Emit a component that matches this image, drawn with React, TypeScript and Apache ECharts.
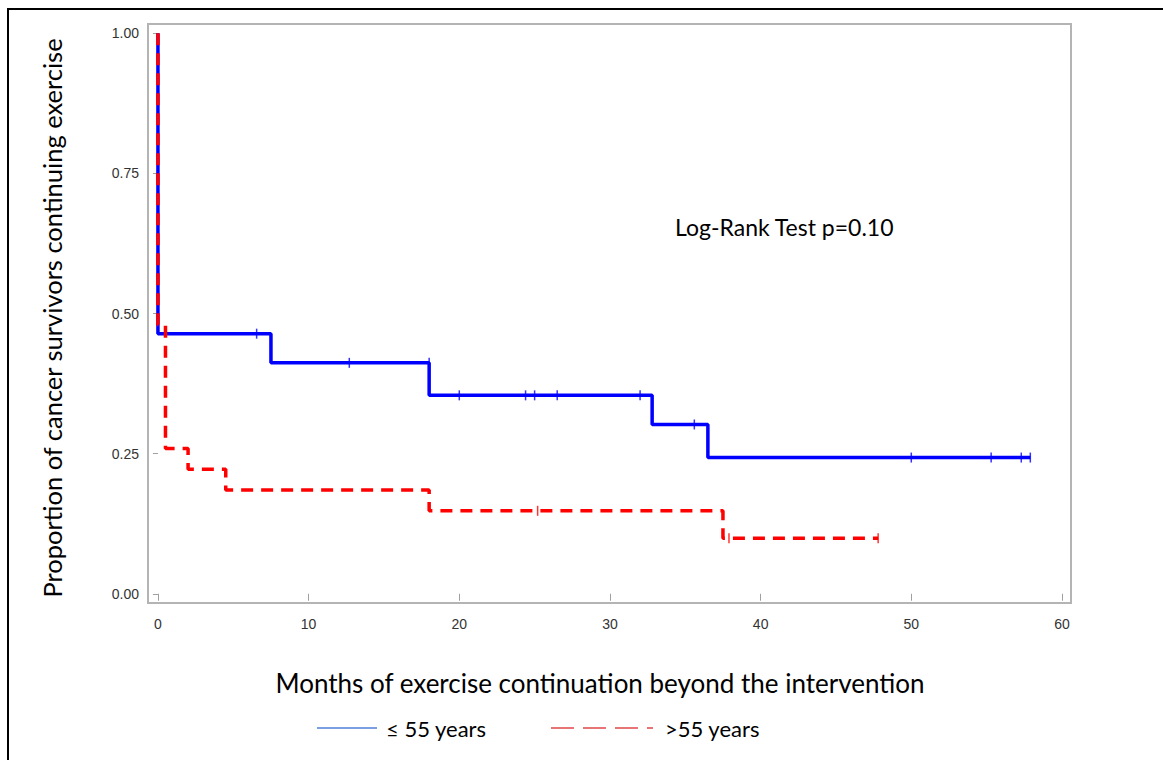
import React, { useEffect, useRef } from "react";
import * as echarts from "echarts";

// Kaplan-Meier curves (event times and survival after each event)
const youngTimes = [0, 0, 7.5, 18.0, 32.8, 36.5, 57.9];
const youngSurv = [1.0, 0.464, 0.412, 0.354, 0.302, 0.243, 0.243];
const oldTimes = [0, 0, 0.5, 2.0, 4.5, 18.0, 37.5, 47.8];
const oldSurv = [1.0, 0.48, 0.259, 0.222, 0.185, 0.148, 0.099, 0.099];

// Censored observations
const youngCensorTimes = [6.55, 12.7, 18.0, 20.0, 24.4, 25.0, 26.5, 32.0, 35.6, 50.0, 55.3, 57.3, 57.9];
const youngCensorSurv = [0.464, 0.412, 0.412, 0.354, 0.354, 0.354, 0.354, 0.354, 0.302, 0.243, 0.243, 0.243, 0.243];
const oldCensorTimes = [25.2, 37.9, 47.8];
const oldCensorSurv = [0.148, 0.099, 0.099];

const xTicks = [0, 10, 20, 30, 40, 50, 60];
const yTicks = [0, 0.25, 0.5, 0.75, 1.0];

const legendNames = ["\u2264 55 years", ">55 years"];
const yTitle = "Proportion of cancer survivors continuing exercise";
const xTitle = "Months of exercise continuation beyond the intervention";
const annotation = "Log-Rank Test p=0.10";

const zip = (a: number[], b: number[]) => a.map((v, i) => [v, b[i]]);

export default function App() {
  const ref = useRef<HTMLDivElement>(null);
  useEffect(() => {
    document.body.style.margin = "0";
    document.body.style.overflow = "hidden";
    if (!ref.current) return;
    const chart = echarts.init(ref.current, undefined, { renderer: "svg" });
    const titleFont = "Lato, 'Open Sans', sans-serif";
    const tickFont = "'Liberation Sans', Arial, sans-serif";
    chart.setOption({
      animation: false,
      backgroundColor: "#ffffff",
      grid: {
        left: 148,
        top: 24,
        right: 92,
        bottom: 157,
        show: true,
        borderColor: "#b4b4b4",
        borderWidth: 2,
        containLabel: false,
      },
      xAxis: {
        type: "value",
        min: -0.66,
        max: 60.6,
        splitLine: { show: false },
        axisLine: { show: false },
        axisTick: {
          show: true,
          inside: false,
          length: 7,
          customValues: xTicks,
          lineStyle: { color: "#a0a0a0", width: 1 },
        },
        axisLabel: {
          customValues: xTicks,
          margin: 14,
          color: "#333",
          fontSize: 14,
          fontFamily: tickFont,
        },
      },
      yAxis: {
        type: "value",
        min: -0.0165,
        max: 1.0165,
        splitLine: { show: false },
        axisLine: { show: false },
        axisTick: {
          show: true,
          inside: false,
          length: 5,
          customValues: yTicks,
          lineStyle: { color: "#a0a0a0", width: 1 },
        },
        axisLabel: {
          customValues: yTicks,
          margin: 9,
          color: "#333",
          fontSize: 14,
          fontFamily: tickFont,
          formatter: (v: number) => v.toFixed(2),
        },
      },
      series: [
        {
          name: legendNames[0],
          type: "line",
          step: "end",
          data: zip(youngTimes, youngSurv),
          showSymbol: false,
          symbol: "none",
          lineStyle: { color: "#0000ff", width: 3.5 },
          z: 2,
        },
        {
          name: legendNames[1],
          type: "line",
          step: "end",
          data: zip(oldTimes, oldSurv),
          showSymbol: false,
          symbol: "none",
          lineStyle: { color: "#ff0000", width: 3.5, type: [12, 8] },
          z: 3,
        },
        {
          type: "scatter",
          data: zip(youngCensorTimes, youngCensorSurv),
          symbol: "rect",
          symbolSize: [1.5, 10],
          itemStyle: { color: "#0000ff" },
          z: 4,
        },
        {
          type: "scatter",
          data: zip(oldCensorTimes, oldCensorSurv),
          symbol: "rect",
          symbolSize: [1.5, 10],
          itemStyle: { color: "#ff0000" },
          z: 4,
        },
      ],
      graphic: [
        {
          type: "rect",
          shape: { x: 8, y: 9, width: 1300, height: 900 },
          style: { fill: "none", stroke: "#000", lineWidth: 2 },
          silent: true,
        },
        {
          type: "text",
          x: 52,
          y: 318,
          rotation: Math.PI / 2,
          style: {
            text: yTitle,
            font: `25.5px ${titleFont}`,
            fill: "#000",
            textAlign: "center",
            textVerticalAlign: "middle",
          },
        },
        {
          type: "text",
          x: 600,
          y: 683,
          style: {
            text: xTitle,
            font: `26px ${titleFont}`,
            fill: "#000",
            textAlign: "center",
            textVerticalAlign: "middle",
          },
        },
        {
          type: "text",
          x: 675,
          y: 227,
          style: {
            text: annotation,
            font: `23px ${titleFont}`,
            fill: "#000",
            textAlign: "left",
            textVerticalAlign: "middle",
          },
        },
        {
          type: "line",
          shape: { x1: 317, y1: 728, x2: 377, y2: 728 },
          style: { stroke: "#4f7fd6", lineWidth: 1.5 },
        },
        {
          type: "text",
          x: 386,
          y: 728,
          style: {
            text: legendNames[0],
            font: `22px ${titleFont}`,
            fill: "#000",
            textAlign: "left",
            textVerticalAlign: "middle",
          },
        },
        {
          type: "line",
          shape: { x1: 551, y1: 728, x2: 653, y2: 728 },
          style: { stroke: "#e04848", lineWidth: 1.5, lineDash: [23, 9] },
        },
        {
          type: "text",
          x: 665,
          y: 728,
          style: {
            text: legendNames[1],
            font: `22px ${titleFont}`,
            fill: "#000",
            textAlign: "left",
            textVerticalAlign: "middle",
          },
        },
      ],
    });
    return () => chart.dispose();
  }, []);
  return <div ref={ref} style={{ width: 1163, height: 760 }} />;
}
